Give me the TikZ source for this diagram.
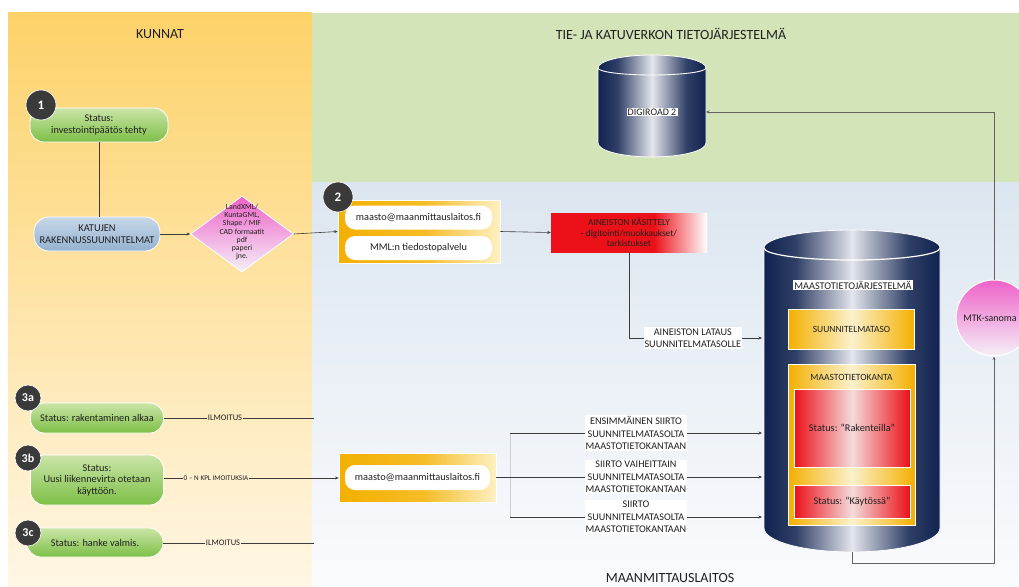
\documentclass[tikz,border=0pt]{standalone}
\usepackage{fontspec}
\setmainfont{Carlito}
\usetikzlibrary{shapes.geometric,arrows.meta,calc}
\definecolor{orgtop}{HTML}{FDD26A}
\definecolor{orgbot}{HTML}{FFF6E4}
\definecolor{grn}{HTML}{D3E4B8}
\definecolor{bluetop}{HTML}{DCE6F0}
\definecolor{bluebot}{HTML}{FAFBFD}
\definecolor{pilltop}{HTML}{CBE5A8}
\definecolor{pillbot}{HTML}{7DBF46}
\definecolor{kattop}{HTML}{C6D7E8}
\definecolor{katbot}{HTML}{95B2D0}
\definecolor{pinktop}{HTML}{EE62C8}
\definecolor{pinkbot}{HTML}{F5F0F8}
\definecolor{badge}{HTML}{3A3A3A}
\definecolor{navyc}{HTML}{10224F}
\definecolor{cylmid}{HTML}{E4E6EC}
\definecolor{redc}{HTML}{EC1018}
\definecolor{redmid}{HTML}{F4DADA}
\definecolor{orgc}{HTML}{F4B000}
\definecolor{orgmid}{HTML}{FBF1CC}
\definecolor{orgpale}{HTML}{FDF0C2}
\definecolor{linec}{HTML}{3C3C3C}
\definecolor{txt}{HTML}{202020}
\pgfdeclarehorizontalshading{cylshade}{100bp}{color(0bp)=(navyc); color(25bp)=(navyc); color(34bp)=(navyc!85!cylmid); color(50bp)=(cylmid); color(66bp)=(navyc!85!cylmid); color(75bp)=(navyc); color(100bp)=(navyc)}
\pgfdeclarehorizontalshading{redfade}{100bp}{color(0bp)=(redc); color(25bp)=(redc); color(58bp)=(redc); color(75bp)=(white); color(100bp)=(white)}
\pgfdeclarehorizontalshading{redcent}{100bp}{color(0bp)=(redc); color(25bp)=(redc); color(50bp)=(redmid); color(75bp)=(redc); color(100bp)=(redc)}
\pgfdeclarehorizontalshading{orgcent}{100bp}{color(0bp)=(orgc); color(25bp)=(orgc); color(50bp)=(orgmid); color(75bp)=(orgc); color(100bp)=(orgc)}
\pgfdeclarehorizontalshading{orgbox}{100bp}{color(0bp)=(orgc); color(25bp)=(orgc); color(52bp)=(orgc!80!orgpale); color(75bp)=(orgpale); color(100bp)=(orgpale)}
\tikzset{
  conn/.style={draw=linec, line width=0.6pt},
  arr/.style={conn, -{Stealth[length=3.5pt,width=3pt]}},
  title/.style={font=\fontsize{14}{16}\selectfont, text=txt},
  gpill/.style={rectangle, rounded corners=14pt, top color=pilltop, bottom color=pillbot, draw=white, line width=0.8pt, align=center, text=txt, font=\fontsize{10.3}{11.5}\selectfont},
  badgec/.style={circle, fill=badge, draw=white, line width=0.6pt, text=white, inner sep=0pt, font=\fontsize{13}{13}\selectfont\bfseries},
  wpill/.style={rectangle, rounded corners=10pt, fill=white, minimum width=147pt, minimum height=24pt, text=txt, font=\fontsize{10.3}{12}\selectfont},
  lbl/.style={fill=white, inner sep=1pt, align=center, text=txt, font=\fontsize{10.2}{12.5}\selectfont},
  slbl/.style={inner sep=1pt, text=txt, font=\fontsize{8.5}{9}\selectfont},
  obox/.style={rectangle, shading=orgcent, draw=white, line width=1pt, text=txt, font=\fontsize{9.5}{11}\selectfont},
  rbox/.style={rectangle, shading=redcent, draw=white, line width=1pt, text=txt, font=\fontsize{10.3}{12}\selectfont},
  anchorbox/.style={rectangle, inner sep=0pt}
}
\begin{document}
\begin{tikzpicture}[x=1pt,y=-1pt]
\useasboundingbox (0,0) rectangle (1019,586);
% backgrounds
\fill[white] (0,0) rectangle (1019,586);
\shade[top color=orgtop, bottom color=orgbot] (8,13) rectangle (312,586);
\fill[grn] (312,13) rectangle (1019,182);
\shade[top color=bluetop, bottom color=bluebot] (312,182) rectangle (1019,586);

% titles
\node[title] (tk) at (160,34) {KUNNAT};
\node[title] (tt) at (671,34) {TIE- JA KATUVERKON TIETOJÄRJESTELMÄ};
\node[title] (tm) at (670,578) {MAANMITTAUSLAITOS};

% DIGIROAD cylinder
\path[shading=cylshade, draw=white, line width=0.8pt] (598,68) arc[start angle=180,end angle=360,x radius=54,y radius=13] -- (706,143) arc[start angle=0,end angle=180,x radius=54,y radius=14] -- cycle;
\draw[white, line width=0.9pt] (598,68) arc[start angle=180,end angle=0,x radius=54,y radius=7];
\node[anchorbox, minimum width=108pt, minimum height=62pt] (dr) at (652,112) {};
\node[fill=white, inner sep=1.2pt, text=txt, font=\fontsize{10}{11}\selectfont] (drl) at (652,112) {DIGIROAD 2};

% MTJ cylinder
\path[shading=cylshade, draw=white, line width=0.8pt] (764,248) arc[start angle=180,end angle=360,x radius=88,y radius=18] -- (940,528) arc[start angle=0,end angle=180,x radius=88,y radius=24] -- cycle;
\draw[white, line width=1.2pt] (764,248) arc[start angle=180,end angle=0,x radius=88,y radius=12];
\node[anchorbox, minimum width=176pt, minimum height=280pt] (mtj) at (852,388) {};
\node[fill=white, inner sep=1.2pt, text=txt, font=\fontsize{10.3}{11}\selectfont] (mtjl) at (853,285) {MAASTOTIETOJÄRJESTELMÄ};
\node[obox, minimum width=126pt, minimum height=40pt] (sut) at (851.5,329.5) {SUUNNITELMATASO};
\node[obox, minimum width=127pt, minimum height=161pt] (mtk0) at (851.5,444.5) {};
\node[text=txt, font=\fontsize{9.5}{11}\selectfont] (mtkl) at (851.5,377) {MAASTOTIETOKANTA};
\node[rbox, minimum width=116pt, minimum height=78pt] (rak) at (852,428) {Status: “Rakenteilla”};
\node[rbox, minimum width=116pt, minimum height=33pt] (kay) at (852,501.5) {Status: “Käytössä”};
\coordinate (in1) at (762,338);
\coordinate (in2) at (762,433);
\coordinate (in3) at (762,477);
\coordinate (in4) at (762,517);
\coordinate (mtjb) at (852,552);
\coordinate (drin) at (706,112);

% MTK circle
\node[circle, minimum size=76pt, top color=pinktop, bottom color=pinkbot, draw=white, line width=1pt, inner sep=0pt] (mtk) at (994,318) {};
\node[text=txt, font=\fontsize{10}{11}\selectfont, inner sep=0pt] (mtkt) at (990,318) {MTK-sanoma};

% left column
\node[gpill, minimum width=138pt, minimum height=34pt] (s1) at (99,125) {Status:\\investointipäätös tehty};
\node[badgec, minimum size=30pt] (b1) at (41,105) {1};
\node[rectangle, rounded corners=15pt, top color=kattop, bottom color=katbot, draw=white, line width=0.8pt, minimum width=126pt, minimum height=34pt, align=center, text=txt, font=\fontsize{10.4}{12.5}\selectfont] (kat) at (97,234) {KATUJEN\\RAKENNUSSUUNNITELMAT};
\node[diamond, minimum width=103pt, minimum height=76pt, inner sep=0pt, top color=pinktop, bottom color=pinkbot, draw=white, line width=0.8pt] (dia) at (242,234) {};
\node[align=center, text=txt, font=\fontsize{7.8}{8.2}\selectfont] (diat) at (242,232) {LandXML/\\KuntaGML,\\Shape / MIF\\CAD formaatit\\pdf\\paperi\\jne.};

% box 2
\node[rectangle, shading=orgbox, draw=white, line width=0.8pt, minimum width=162pt, minimum height=63pt] (box2) at (419,231.5) {};
\node[wpill] (em1) at (418.5,217.5) {maasto@maanmittauslaitos.fi};
\node[wpill] (tp) at (418.5,248) {MML:n tiedostopalvelu};
\node[badgec, minimum size=30pt] (b2) at (338,197) {2};

% red box
\node[rectangle, shading=redfade, minimum width=156pt, minimum height=39pt, align=center, text=txt, font=\fontsize{9.3}{10.5}\selectfont] (red) at (629,232.5) {AINEISTON KÄSITTELY\\- digitointi/muokkaukset/\\tarkistukset};

% 3a 3b 3c
\node[gpill, minimum width=133pt, minimum height=30pt] (s3a) at (97,418) {Status: rakentaminen alkaa};
\node[badgec, minimum size=26pt, font=\fontsize{12}{12}\selectfont\bfseries] (b3a) at (28,398) {3a};
\node[gpill, minimum width=133pt, minimum height=50pt] (s3b) at (97,480) {Status:\\Uusi liikennevirta otetaan\\käyttöön.};
\node[badgec, minimum size=26pt, font=\fontsize{12}{12}\selectfont\bfseries] (b3b) at (28,458) {3b};
\node[gpill, minimum width=136pt, minimum height=29pt] (s3c) at (95,542.5) {Status: hanke valmis.};
\node[badgec, minimum size=26pt, font=\fontsize{12}{12}\selectfont\bfseries] (b3c) at (28,533) {3c};

% box 3
\node[rectangle, shading=orgbox, draw=white, line width=0.8pt, minimum width=157pt, minimum height=49pt] (box3) at (417.5,477.5) {};
\node[wpill, minimum width=145pt, minimum height=25pt] (em2) at (417.5,477.5) {maasto@maanmittauslaitos.fi};

% connector labels (left)
\node[slbl] (l3a) at (225,418) {ILMOITUS};
\node[slbl, font=\fontsize{7.2}{9}\selectfont] (l3b) at (216,478) {0 – N KPL IMOITUKSIA};
\node[slbl] (l3c) at (223,543) {ILMOITUS};
\coordinate (e3a) at (314,418);
\coordinate (e3c) at (314,543);

% connectors
\draw[conn] (s1.south) -- (s1.south |- kat.north);
\draw[arr] (kat.east) -- (dia.west);
\draw[arr] (dia.east) -- (box2.west);
\draw[arr] (box2.east) -- (red.west);
\draw[arr] (red.south) |- node[lbl, pos=0.74] {AINEISTON LATAUS\\SUUNNITELMATASOLLE} (in1);

\draw[conn] (s3a.east) -- (l3a.west);
\draw[conn] (l3a.east) -- (e3a);
\draw[conn] (s3b.east |- l3b) -- (l3b.west);
\draw[arr] (l3b.east) -- (box3.west |- l3b);
\draw[conn] (s3c.east |- l3c) -- (l3c.west);
\draw[conn] (l3c.east) -- (e3c);

\coordinate (fork) at (510,477);
\draw[conn] (box3.east |- fork) -- (fork);
\draw[draw=linec!25, line width=0.5pt] (fork |- in2) -- (fork |- in4);
\draw[arr] (fork |- in2) -- node[lbl] {ENSIMMÄINEN SIIRTO\\SUUNNITELMATASOLTA\\MAASTOTIETOKANTAAN} (in2);
\draw[arr] (fork) -- node[lbl] {SIIRTO VAIHEITTAIN\\SUUNNITELMATASOLTA\\MAASTOTIETOKANTAAN} (in3);
\draw[arr] (fork |- in4) -- node[lbl] {SIIRTO\\SUUNNITELMATASOLTA\\MAASTOTIETOKANTAAN} (in4);

\draw[arr, draw=linec!80] (mtjb) -- ++(0,11) -| (mtk.south);
\draw[arr, draw=linec!80] (mtk.north) |- (drin);
\end{tikzpicture}
\end{document}
